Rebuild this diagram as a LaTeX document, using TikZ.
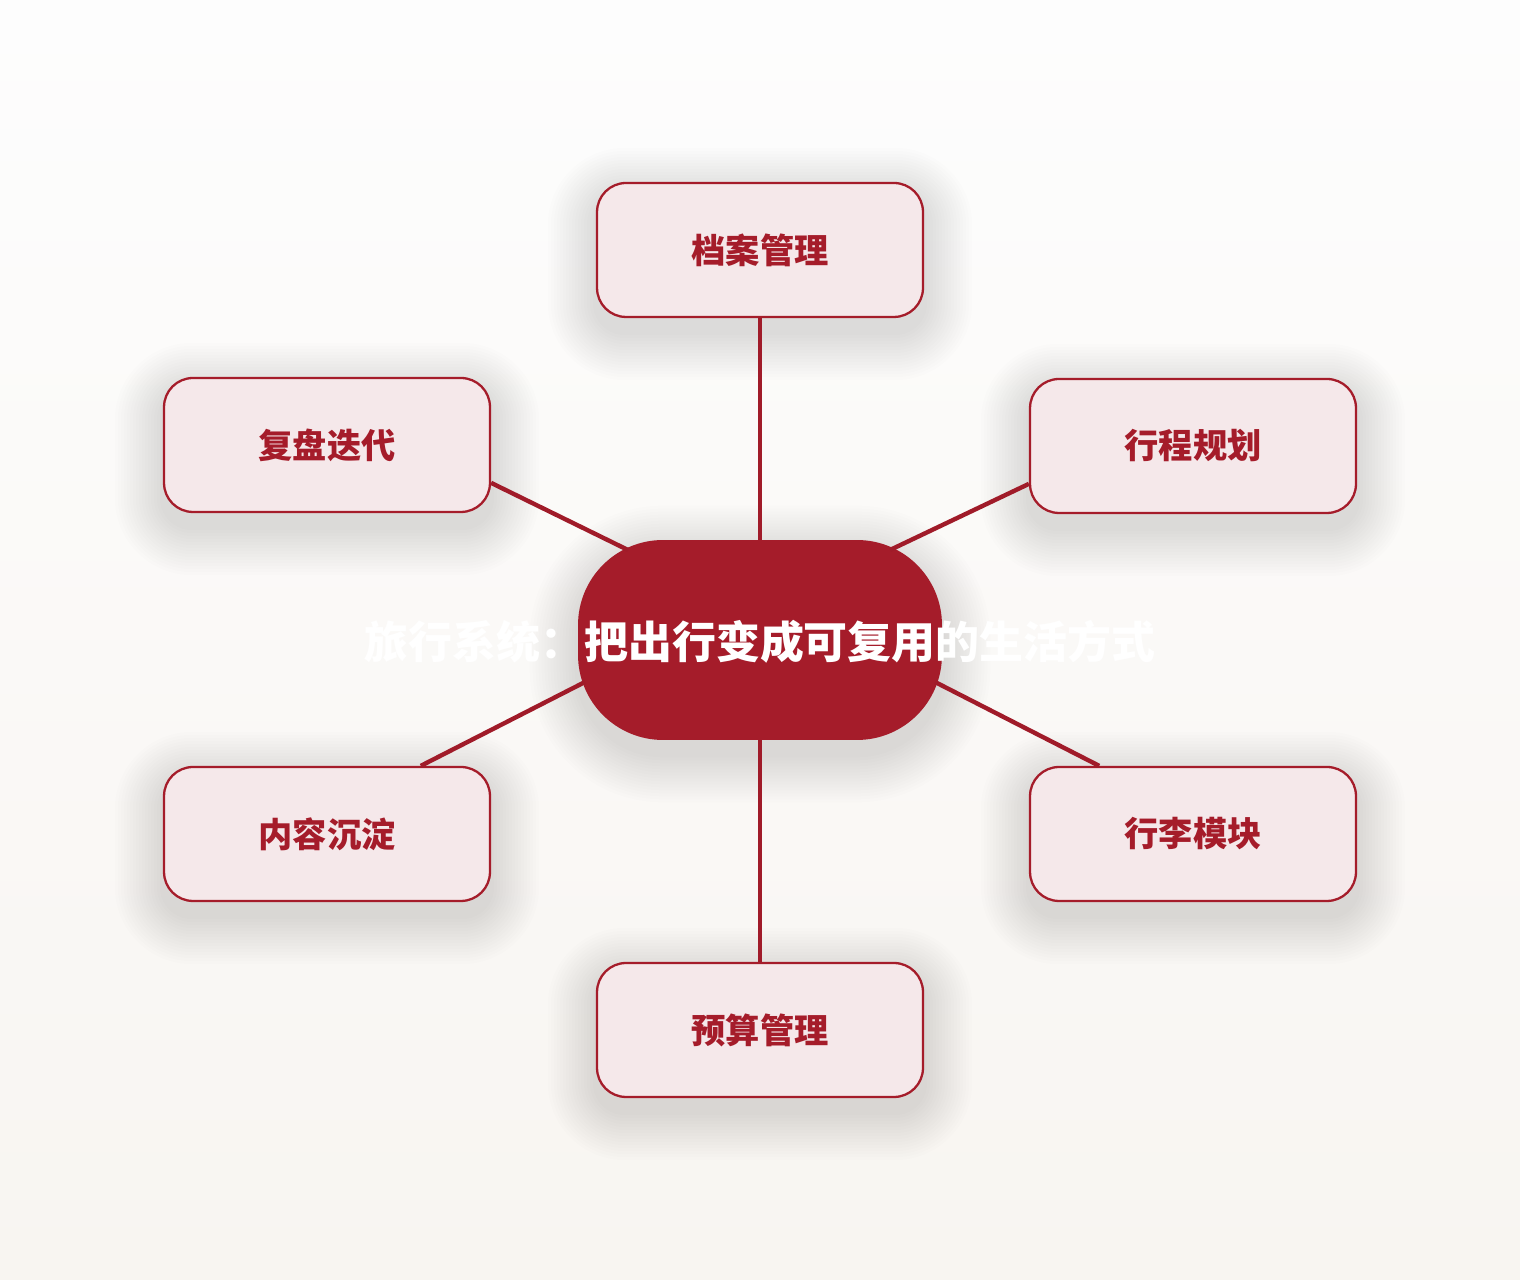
\documentclass[tikz,border=0pt]{standalone}
\usepackage{fontspec}
\setmainfont{Noto Sans CJK SC}
\usetikzlibrary{calc}
\definecolor{travelred}{HTML}{A51C2A}
\definecolor{linkred}{HTML}{A01B29}
\definecolor{boxfill}{HTML}{F5E8EA}
\definecolor{bgtop}{HTML}{FDFDFD}
\definecolor{bgbottom}{HTML}{F8F5F1}
\pgfdeclarelayer{background}
\pgfsetlayers{background,main}

\begin{document}
\begin{tikzpicture}[line join=round,x=0.02cm,y=0.02cm]
\tikzset{
  hub/.style={rectangle, rounded corners=1.7cm, fill=travelred, minimum width=7.28cm, minimum height=4cm},
  hubtext/.style={text=white, font=\bfseries\fontsize{25}{30}\selectfont},
  topic/.style={rectangle, rounded corners=0.58cm, draw=travelred, line width=1.3pt, fill=boxfill, minimum width=6.52cm, minimum height=2.68cm, text=travelred, font=\bfseries\fontsize{19.5}{24}\selectfont},
  link/.style={draw=linkred, line width=2.5pt},
  shadowstep/.style={fill=black, opacity=0.009}
}
\def\nsteps{16}
\def\grow{3}

% background
\useasboundingbox (0,0) rectangle (1520,1280);
\begin{pgfonlayer}{background}
\shade[top color=bgtop, bottom color=bgbottom] (0,0) rectangle (1520,1280);
\end{pgfonlayer}

% centre
\node[hub] (hub) at (760,640) {};

% topics
\foreach \name/\x/\y/\label in {archive/760/1030/档案管理, plan/1193/834/行程规划, review/327/835/复盘迭代, content/327/446/内容沉淀, luggage/1193/446/行李模块, budget/760/250/预算管理}{
    \node[topic] (\name) at (\x,\y) {\label};
}

% soft shadows
\begin{pgfonlayer}{background}
\foreach \name in {archive,plan,review,content,luggage,budget} {
    \foreach \i in {1,...,\nsteps} {
        \fill[shadowstep, rounded corners={0.58cm+\i*\grow*0.02cm}]
            ($(\name.south west)+(-\i*\grow,-\i*\grow-14)$) rectangle ($(\name.north east)+(\i*\grow,\i*\grow-14)$);
    }
}
\foreach \i in {1,...,\nsteps} {
    \fill[shadowstep, rounded corners={1.7cm+\i*\grow*0.02cm}]
        ($(hub.south west)+(-\i*\grow,-\i*\grow-14)$) rectangle ($(hub.north east)+(\i*\grow,\i*\grow-14)$);
}
\end{pgfonlayer}

% links
\draw[link] (archive.south) -- (hub.north);
\draw[link] (budget.north) -- (hub.south);
\draw[link] (review.-13) -- ($(hub.center)+(-132,90)$);
\draw[link] (plan.193.5) -- ($(hub.center)+(130,90)$);
\draw[link] (content.36.4) -- ($(hub.center)+(-175,-42)$);
\draw[link] (luggage.144) -- ($(hub.center)+(175,-42)$);

\node[hubtext] (title) at (760,638) {旅行系统：把出行变成可复用的生活方式};

\end{tikzpicture}
\end{document}
